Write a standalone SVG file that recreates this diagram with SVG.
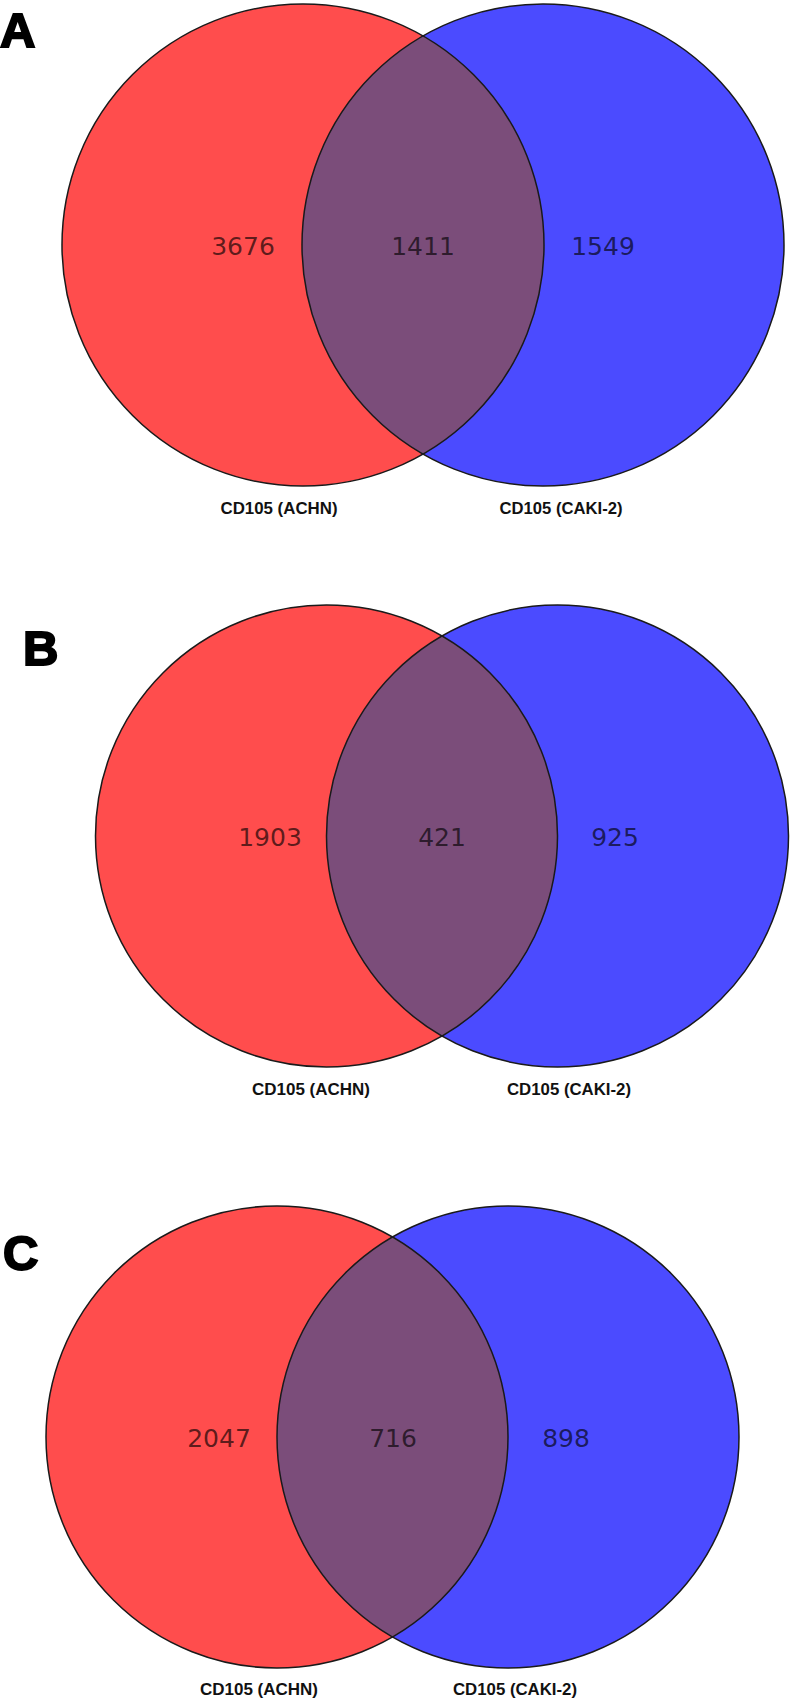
<svg xmlns="http://www.w3.org/2000/svg" width="791" height="1699" viewBox="0 0 791 1699">
<style>
.red{fill:#ff4d4d}
.blue{fill:#4b4bff}
.lens{fill:#7b4d7a}
.ring{fill:none;stroke:#1a1a1a;stroke-width:1.5}
.num{font-family:"DejaVu Sans",sans-serif;font-size:25px;fill:#000;fill-opacity:0.65;text-anchor:middle}
.lab{font-family:"Liberation Sans",Arial,sans-serif;font-weight:bold;font-size:17px;fill:#111;text-anchor:middle}
.panel{font-family:"Liberation Sans",Arial,sans-serif;font-weight:bold;font-size:49px;fill:#000;stroke:#000;stroke-width:2}
</style>
<rect width="791" height="1699" fill="#fff"/>

<g id="panelA">
  <text class="panel" x="0" y="47">A</text>
  <g id="A-achn">
    <circle class="red" cx="303" cy="245" r="241"/>
  </g>
  <g id="A-caki2">
    <circle class="blue" cx="543" cy="245" r="241"/>
  </g>
  <g id="A-overlap">
    <path class="lens" d="M423,36 A241,241 0 0 1 423,454 A241,241 0 0 1 423,36 Z"/>
  </g>
  <circle class="ring" cx="303" cy="245" r="241"/>
  <circle class="ring" cx="543" cy="245" r="241"/>
  <text class="num" x="243" y="255">3676</text>
  <text class="num" x="423" y="255">1411</text>
  <text class="num" x="603" y="255">1549</text>
  <text class="lab" x="279" y="514" textLength="117" lengthAdjust="spacingAndGlyphs">CD105 (ACHN)</text>
  <text class="lab" x="561" y="514" textLength="123" lengthAdjust="spacingAndGlyphs">CD105 (CAKI-2)</text>
</g>

<g id="panelB">
  <text class="panel" x="23" y="665">B</text>
  <g id="B-achn">
    <circle class="red" cx="326.5" cy="836" r="231"/>
  </g>
  <g id="B-caki2">
    <circle class="blue" cx="557.5" cy="836" r="231"/>
  </g>
  <g id="B-overlap">
    <path class="lens" d="M442,636 A231,231 0 0 1 442,1036 A231,231 0 0 1 442,636 Z"/>
  </g>
  <circle class="ring" cx="326.5" cy="836" r="231"/>
  <circle class="ring" cx="557.5" cy="836" r="231"/>
  <text class="num" x="270" y="846">1903</text>
  <text class="num" x="442" y="846">421</text>
  <text class="num" x="615" y="846">925</text>
  <text class="lab" x="311" y="1095" textLength="118" lengthAdjust="spacingAndGlyphs">CD105 (ACHN)</text>
  <text class="lab" x="569" y="1095" textLength="124" lengthAdjust="spacingAndGlyphs">CD105 (CAKI-2)</text>
</g>

<g id="panelC">
  <text class="panel" x="3" y="1270">C</text>
  <g id="C-achn">
    <circle class="red" cx="277" cy="1437" r="231"/>
  </g>
  <g id="C-caki2">
    <circle class="blue" cx="508" cy="1437" r="231"/>
  </g>
  <g id="C-overlap">
    <path class="lens" d="M392.5,1237 A231,231 0 0 1 392.5,1637 A231,231 0 0 1 392.5,1237 Z"/>
  </g>
  <circle class="ring" cx="277" cy="1437" r="231"/>
  <circle class="ring" cx="508" cy="1437" r="231"/>
  <text class="num" x="219" y="1447">2047</text>
  <text class="num" x="393" y="1447">716</text>
  <text class="num" x="566" y="1447">898</text>
  <text class="lab" x="259" y="1695" textLength="118" lengthAdjust="spacingAndGlyphs">CD105 (ACHN)</text>
  <text class="lab" x="515" y="1695" textLength="124" lengthAdjust="spacingAndGlyphs">CD105 (CAKI-2)</text>
</g>
</svg>
